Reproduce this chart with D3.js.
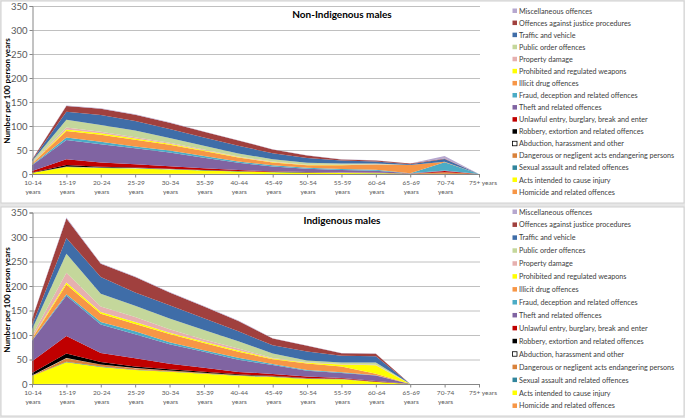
<!DOCTYPE html>
<html><head><meta charset="utf-8">
<script src="https://cdn.jsdelivr.net/npm/d3@7"></script>
<style>body{margin:0;background:#fff}svg{display:block;font-family:Lato,"Open Sans",sans-serif}</style>
</head><body><svg id="c" width="685" height="418"></svg>
<script>
// ---------- DATA ----------
const ages = ["10-14","15-19","20-24","25-29","30-34","35-39","40-44","45-49","50-54","55-59","60-64","65-69","70-74","75+"];
const yTicks = [0,50,100,150,200,250,300,350];
// stack order, bottom to top
const offences = ["Homicide and related offences","Acts intended to cause injury","Sexual assault and related offences",
 "Dangerous or negligent acts endangering persons","Abduction, harassment and other","Robbery, extortion and related offences",
 "Unlawful entry, burglary, break and enter","Theft and related offences","Fraud, deception and related offences",
 "Illicit drug offences","Prohibited and regulated weapons","Property damage","Public order offences",
 "Traffic and vehicle","Offences against justice procedures","Miscellaneous offences"];
const offenceColors = ["#F79646","#FFFF00","#31859C","#D9823B","#FFFFFF","#000000","#C00000","#8064A2","#4BACC6",
 "#F79646","#FFFF00","#E6B0AF","#C4D79B","#3F6DA8","#A0403E","#B6A7CF"];

// Non-Indigenous males
const nonHomicide  = [0,0.5,0.4,0.4,0.3,0.3,0.3,0.2,0.2,0.2,0.1,0,0,0];
const nonActs      = [2,14,12,11,9,7,5,3.5,2.5,2,1.5,0.5,0.5,0];
const nonSexual    = [0.3,0.5,0.4,0.4,0.4,0.3,0.3,0.3,0.3,0.3,0.3,0,0,0];
const nonDangerous = [0.2,0.5,0.3,0.3,0.3,0.3,0.2,0.2,0.2,0.3,0.5,0,3,0];
const nonAbduction = [0.1,0.3,0.2,0.2,0.2,0.1,0.1,0.1,0.1,0.1,0.1,0,0,0];
const nonRobbery   = [0.5,3,1.7,1.2,0.8,0.5,0.3,0.2,0.1,0.1,0.1,0,0,0];
const nonUnlawful  = [3,12,9,7,5,3.5,2,1,0.6,0.4,0.5,0,3,0];
const nonTheft     = [12,40,38,33,29,22,15,10,7,5,3.5,1,1,0];
const nonFraud     = [1,5,5,4,4,3.5,3,2.5,2,2,2,0,17,0];
const nonDrug      = [2,14,15,14,12,10.5,8,6,5,8,11,17,1,0];
const nonWeapons   = [0.7,3,3,2.5,2,1.5,1,0.8,0.6,0.5,0.3,0,0,0];
const nonProperty  = [2,4,3,2.5,2,1.5,1.2,1,0.7,0.5,0.3,0,0,0];
const nonPublic    = [3,16,14,14,10,8,6.5,5,4,2.5,1.5,0,0,0];
const nonTraffic   = [1.5,17,21,20,19,17,16,12.5,10,6,4.5,2,6,0];
const nonJustice   = [1.5,12,13,13,13,12,11,8,5.5,2.5,2,1.5,1,0];
const nonMisc      = [0.3,1,0.8,0.8,0.8,0.6,0.5,0.4,0.4,0.3,0.2,0,5,0];

// Indigenous males
const indHomicide  = [0.2,0.5,0.4,0.4,0.3,0.3,0.2,0.2,0.2,0.2,0,0,0,0];
const indActs      = [16,44,34.5,28,24.5,20.5,16.5,14,10,9.5,4,0,0,0];
const indSexual    = [0.3,1,0.8,0.8,0.7,0.6,0.6,0.5,0.5,0.3,0.3,0,0,0];
const indDangerous = [0.5,7,4,3,2,1.6,1,1,0.8,0.5,0.5,0,0,0];
const indAbduction = [0.2,0.5,0.3,0.3,0.3,0.2,0.1,0.1,0.1,0.1,0,0,0,0];
const indRobbery   = [5,9,5,3,2.5,1.8,1.3,0.8,0.5,0.3,0.3,0,0,0];
const indUnlawful  = [24,36,18.5,17,11,8,5,4,3,1.5,1,0,0,0];
const indTheft     = [42,82,58,49,40,33,25,18,12,10,11,0,0,0];
const indFraud     = [1,3,5,6,4,3,4,2,1.5,1.5,1,0,0,0];
const indDrug      = [3,20,17,15,16.5,14.7,12,10,13,12,3,0,0,0];
const indWeapons   = [1,4,3.4,4,3,2.3,2.7,1.5,2,4,17,0,0,0];
const indProperty  = [5,20,11.4,10,7,5,4,1,1,1,1,0,0,0];
const indPublic    = [13,39,26,23,22,19,15,9,3.5,3,5,0,0,0];
const indTraffic   = [8,32,34,27,27,24,20,17,18,13.5,12.5,0,0,0];
const indJustice   = [13,40,27,32,26,24,21,14,12,5.5,5,0,0,0];
const indMisc      = [1,2,1,1,1,1,1,0.5,0.5,0.5,0.5,0,0,0];

const nonSeries = [nonHomicide,nonActs,nonSexual,nonDangerous,nonAbduction,nonRobbery,nonUnlawful,nonTheft,nonFraud,nonDrug,nonWeapons,nonProperty,nonPublic,nonTraffic,nonJustice,nonMisc];
const indSeries = [indHomicide,indActs,indSexual,indDangerous,indAbduction,indRobbery,indUnlawful,indTheft,indFraud,indDrug,indWeapons,indProperty,indPublic,indTraffic,indJustice,indMisc];

// ---------- DRAW ----------
const svg = d3.select("#c");
// panel frames
svg.append("rect").attr("x",0).attr("y",0).attr("width",685).attr("height",418).attr("fill","#e6e6e6");
svg.append("rect").attr("x",1).attr("y",1).attr("width",683).attr("height",202).attr("fill","#fff").attr("stroke","#d0d0d0");
svg.append("rect").attr("x",1).attr("y",207).attr("width",683).attr("height",209).attr("fill","#fff").attr("stroke","#d0d0d0");

function panel(series, title, cfg){
  const g = svg.append("g");
  const x = d3.scalePoint().domain(ages).range([32,479]);
  const y = d3.scaleLinear().domain([0,350]).range([cfg.y0, cfg.y350]);
  const table = ages.map((a,i)=>{const r={age:a}; offences.forEach((k,j)=>r[k]=series[j][i]); return r;});
  const stacked = d3.stack().keys(offences)(table);

  // gridlines
  g.selectAll(".grid").data(yTicks).join("line")
    .attr("x1",32).attr("x2",480).attr("y1",d=>y(d)+0.5).attr("y2",d=>y(d)+0.5)
    .attr("stroke","#c0c0c0").attr("stroke-width",1);

  // areas
  const area = d3.area().x(d=>x(d.data.age)).y0(d=>y(d[0])).y1(d=>y(d[1]));
  g.selectAll(".layer").data(stacked).join("path")
    .attr("d",area).attr("fill",(d,i)=>offenceColors[i]);

  // axes
  const yAxis = d3.axisLeft(y).tickValues(yTicks).tickSize(3).tickPadding(2);
  const ya = g.append("g").attr("transform","translate(32.5,0)").call(yAxis);
  ya.select(".domain").attr("stroke","#868686");
  ya.selectAll(".tick line").attr("stroke","#868686");
  ya.selectAll("text").attr("font-size","9.5px").attr("fill","#595959").attr("font-family","Lato, sans-serif");

  const xAxis = d3.axisBottom(x).tickSize(3).tickFormat("");
  const xa = g.append("g").attr("transform",`translate(0,${cfg.y0+0.5})`).call(xAxis);
  xa.select(".domain").attr("stroke","#868686").attr("d",`M32,0H480`);
  xa.selectAll(".tick line").attr("stroke","#868686");
  ages.forEach(a=>{
    const t = g.append("text").attr("x",x(a)+1).attr("y",cfg.xl).attr("text-anchor","middle")
      .attr("font-size","6.5px").attr("fill","#595959");
    if(a==="75+"){ t.text("75+ years").attr("x",x(a)+4); }
    else { t.append("tspan").attr("x",x(a)+1).text(a);
           t.append("tspan").attr("x",x(a)+1).attr("dy",9).text("years"); }
  });

  // y label
  g.append("text").attr("transform",`translate(10,${cfg.ylab}) rotate(-90)`).attr("text-anchor","middle")
    .attr("font-size","8px").attr("font-weight","bold").attr("fill","#000").text("Number per 100 person years");
  // title
  g.append("text").attr("x",342).attr("y",cfg.ty).attr("text-anchor","middle").attr("font-size","10px")
    .attr("font-weight","bold").attr("fill","#000").text(title);

  // legend (top to bottom = reverse stack order)
  const legendItems = offences.map((o,i)=>({o,c:offenceColors[i]})).reverse();
  const lg = g.append("g");
  legendItems.forEach((d,i)=>{
    const yy = cfg.ly + i*cfg.ls;
    lg.append("rect").attr("x",512.5).attr("y",yy-2.5).attr("width",4.5).attr("height",4.5)
      .attr("fill",d.c).attr("stroke",d.c==="#FFFFFF"?"#000":"none").attr("stroke-width",0.8);
    lg.append("text").attr("x",519).attr("y",yy).attr("dy","0.35em").attr("font-size","7.2px")
      .attr("fill","#404040").text(d.o);
  });
}

panel(nonSeries,"Non-Indigenous males",{y0:174,y350:6,xl:185,ylab:91,ty:18,ly:11,ls:12.07});
panel(indSeries,"Indigenous males",{y0:384,y350:212.5,xl:395,ylab:300,ty:224,ly:212,ls:12.93});
</script></body></html>
